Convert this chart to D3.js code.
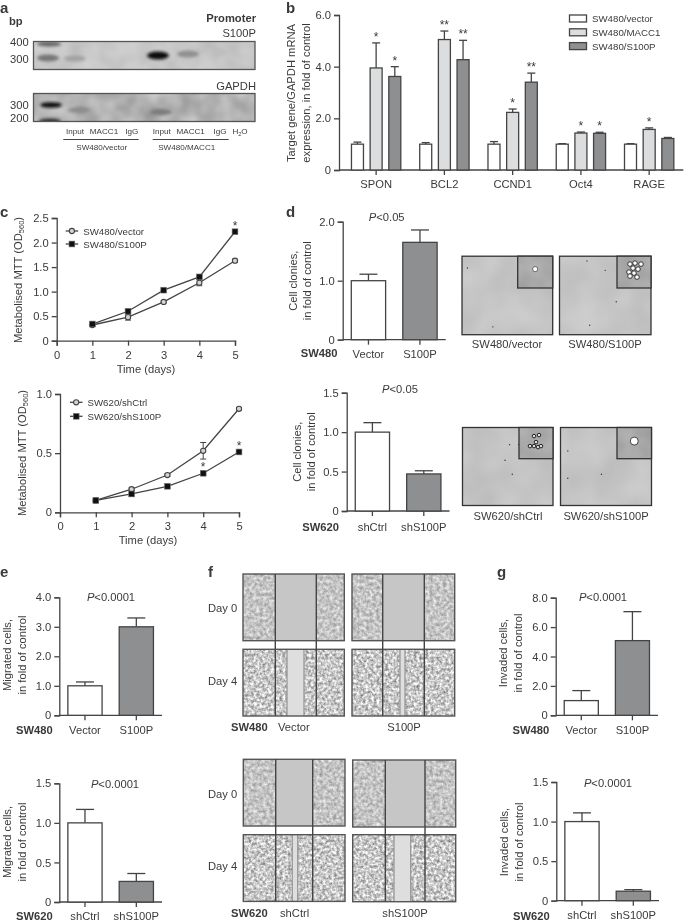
<!DOCTYPE html>
<html><head><meta charset="utf-8"><style>
html,body{margin:0;padding:0;background:#fff}
svg{display:block;filter:blur(0.35px)}
text{font-family:"Liberation Sans",Arial,sans-serif;fill:#3a3a3a}
</style><script src="https://cdn.jsdelivr.net/npm/d3@7"></script></head><body>
<svg id="c" width="685" height="921"></svg>
<script>
// ---------- DATA ----------
const genes = ["SPON","BCL2","CCND1","Oct4","RAGE"];
const groupsB = ["SW480/vector","SW480/MACC1","SW480/S100P"];
const vectorB = [1,1,1,1,1];
const vectorBErr = [1.08,1.06,1.10,1.02,1.02];
const macc1B = [3.95,5.05,2.23,1.43,1.57];
const macc1BErr = [4.92,5.38,2.36,1.47,1.63];
const s100pB = [3.62,4.27,3.40,1.42,1.22];
const s100pBErr = [4.00,5.02,3.75,1.46,1.26];
const starsMacc1B = ["*","**","*","*","*"];
const starsS100pB = ["*","**","**","*",""];
const bTicks = [0,2,4,6];

const days = [1,2,3,4,5];
const mttVector = [0.32,0.48,0.79,1.18,1.63];
const mttVectorErr = [0.02,0.06,0.02,0.06,0.03];
const mttS100P = [0.34,0.60,1.03,1.30,2.22];
const mttCtrl = [0.10,0.195,0.315,0.52,0.875];
const mttCtrlErr = [0.005,0.01,0.01,0.07,0.01];
const mttShS100P = [0.10,0.155,0.22,0.33,0.51];

const catSW480 = ["Vector","S100P"];
const catSW620 = ["shCtrl","shS100P"];
const clon480 = [1.0,1.65], clon480Err = [1.11,1.86];
const clon620 = [1.0,0.47], clon620Err = [1.12,0.51];
const migr480 = [1.0,3.0], migr480Err = [1.13,3.3];
const migr620 = [1.0,0.26], migr620Err = [1.17,0.36];
const inv480 = [1.0,5.08], inv480Err = [1.68,7.05];
const inv620 = [1.0,0.12], inv620Err = [1.11,0.14];
const ticks2 = [0,1,2], ticks15 = [0,0.5,1,1.5], ticks4 = [0,1,2,3,4], ticks8 = [0,2,4,6,8];

const lanes = ["Input","MACC1","IgG","Input","MACC1","IgG"];
// ---------- STYLE ----------
const INK="#444", GREY="#8e8f91", LIGHT="#dcddde", DARK="#222", FS=11.2;
const svg=d3.select("#c"), defs=svg.append("defs");
function txt(x,y,s,o={}){
  const t=svg.append("text").attr("x",x).attr("y",y).text(s)
    .attr("font-size",o.fs||FS).attr("text-anchor",o.a||"start");
  if(o.b)t.attr("font-weight","bold");
  if(o.rot)t.attr("transform",`rotate(-90 ${x} ${y})`);
  return t;
}
function letter(x,y,s){txt(x,y,s,{fs:15,b:1});}
function styleAxis(g){
  g.selectAll("path,line").attr("stroke",INK).attr("stroke-width",1.3);
  g.selectAll("text").attr("font-size",FS).attr("font-family",'"Liberation Sans",Arial,sans-serif').attr("fill","#3a3a3a");
}
function fmt(d){return d===0?"0":d3.format(".1f")(d);}
function rotTitle(x,y,lines){lines.forEach((l,i)=>txt(x[i]+4,y,l,{a:"middle",rot:1}));}
function pText(cx,y,s){
  const t=svg.append("text").attr("x",cx).attr("y",y).attr("text-anchor","middle").attr("font-size",FS);
  t.append("tspan").attr("font-style","italic").text("P");
  t.append("tspan").text(s);
}
// ---------- simple two-bar panels ----------
function barPanel(p){
  const y=d3.scaleLinear().domain([0,p.max]).range([p.y0,p.yTop]);
  const x=d3.scaleBand().domain(p.cats).range([p.x0,p.x1]).paddingInner(1/3).paddingOuter(1/6);
  const ga=svg.append("g").attr("transform",`translate(${p.x0},0)`)
    .call(d3.axisLeft(y).tickValues(p.ticks).tickFormat(fmt).tickSize(5).tickPadding(3));
  styleAxis(ga);
  const gb=svg.append("g").attr("transform",`translate(0,${p.y0})`)
    .call(d3.axisBottom(x).tickSize(5).tickPadding(p.pad));
  styleAxis(gb); gb.select("path").attr("d",`M${p.x0},0H${p.x1}`);
  p.cats.forEach((c,i)=>{
    const cx=x(c)+x.bandwidth()/2;
    svg.append("line").attr("x1",cx).attr("x2",cx).attr("y1",y(p.vals[i])).attr("y2",y(p.errs[i])).attr("stroke",INK).attr("stroke-width",1.3);
    svg.append("line").attr("x1",cx-9).attr("x2",cx+9).attr("y1",y(p.errs[i])).attr("y2",y(p.errs[i])).attr("stroke",INK).attr("stroke-width",1.3);
    svg.append("rect").attr("x",x(c)).attr("width",x.bandwidth()).attr("y",y(p.vals[i])).attr("height",p.y0-y(p.vals[i]))
      .attr("fill",i?GREY:"#fff").attr("stroke",INK).attr("stroke-width",1.3);
  });
  rotTitle(p.tx,p.ty,p.title);
  pText(p.px,p.py,p.p);
  txt(p.cx,p.cy,p.cell,{b:1});
}
// ---------- panel a: gel images ----------
defs.append("filter").attr("id","bandBlur").attr("x","-50%").attr("y","-100%").attr("width","200%").attr("height","300%")
  .append("feGaussianBlur").attr("stdDeviation",1.4);
function noise(id,freq,seed,k,c,oct=2){
  const f=defs.append("filter").attr("id",id).attr("x",0).attr("y",0).attr("width",1).attr("height",1).attr("color-interpolation-filters","sRGB");
  f.append("feTurbulence").attr("type","fractalNoise").attr("baseFrequency",freq).attr("numOctaves",oct).attr("seed",seed);
  f.append("feColorMatrix").attr("type","matrix").attr("values",`${k} 0 0 0 ${c} ${k} 0 0 0 ${c} ${k} 0 0 0 ${c} 0 0 0 0 1`);
  f.append("feGaussianBlur").attr("stdDeviation",0.5);
}
function gel(y,h,id,bands){
  defs.append("clipPath").attr("id",id+"c").append("rect").attr("x",33.5).attr("y",y).attr("width",221.5).attr("height",h);
  noise(id,0.05,id==="g1"?3:8,id==="g1"?0.12:0.3,id==="g1"?0.72:0.55);
  svg.append("rect").attr("x",33.5).attr("y",y).attr("width",221.5).attr("height",h).attr("filter",`url(#${id})`);
  const g=svg.append("g").attr("clip-path",`url(#${id}c)`);
  bands.forEach(b=>g.append("ellipse").attr("cx",b[0]).attr("cy",b[1]).attr("rx",b[2]).attr("ry",b[3]).attr("fill",b[4]).attr("filter","url(#bandBlur)"));
  svg.append("rect").attr("x",33.5).attr("y",y).attr("width",221.5).attr("height",h).attr("fill","none").attr("stroke","#555").attr("stroke-width",1.3);
}
letter(0,13,"a");
txt(9,25,"bp",{b:1,fs:11.2});
txt(256,22,"Promoter",{a:"end",b:1});
txt(256,37,"S100P",{a:"end"});
gel(41.5,28,"g1",[[49,44,12,2.4,"#666"],[48,58,11,3.5,"#777"],[75,58.5,11,3,"#a2a2a2"],[158,55.5,11,4,"#111"],[188,54,11,3.6,"#909090"],[220,52,8,2,"#bdbdbd"]]);
txt(256,90,"GAPDH",{a:"end"});
gel(93.5,28,"g2",[[51,105,11,2.8,"#111"],[50,121,11,2.5,"#333"],[79,110,11,3,"#8d8d8d"],[122,108,7,2,"#a2a2a2"],[161,112,11,3,"#7c7c7c"]]);
txt(10,45.5,"400");txt(10,63,"300");txt(10,109,"300");txt(10,122,"200");
const laneX=[75,104,131.7,161.7,190.7,220];
lanes.forEach((l,i)=>txt(laneX[i],134,l,{a:"middle",fs:8.1}));
const h2o=txt(240,134,"H",{a:"middle",fs:8.1});h2o.append("tspan").attr("font-size",5.5).attr("dy",1.5).text("2");h2o.append("tspan").attr("dy",-1.5).text("O");
[[63.3,138.7],[152.7,228.7]].forEach(r=>svg.append("line").attr("x1",r[0]).attr("x2",r[1]).attr("y1",139.5).attr("y2",139.5).attr("stroke",INK).attr("stroke-width",1));
txt(101.7,150,"SW480/vector",{a:"middle",fs:8.1});
txt(186.7,150,"SW480/MACC1",{a:"middle",fs:8.1});

// ---------- panel b ----------
letter(286,13,"b");
(function(){
  const y=d3.scaleLinear().domain([0,6]).range([170,15]);
  const x0=d3.scaleBand().domain(genes).range([342,683.3]);
  const x1=d3.scaleBand().domain(groupsB).range([0,56]);
  const series=[[vectorB,vectorBErr,"#fff"],[macc1B,macc1BErr,LIGHT],[s100pB,s100pBErr,GREY]];
  const ga=svg.append("g").attr("transform","translate(339,0)")
    .call(d3.axisLeft(y).tickValues(bTicks).tickFormat(d=>d?d.toFixed(1):"0").tickSize(5).tickPadding(3));styleAxis(ga);
  const gb=svg.append("g").attr("transform","translate(0,170)").call(d3.axisBottom(x0).tickSize(5).tickPadding(5.5));styleAxis(gb);
  gb.select("path").attr("d","M339,0H683.3");
  genes.forEach((g,i)=>{
    const gx=x0(g)+x0.bandwidth()/2-28;
    series.forEach((s,j)=>{
      const cx=gx+x1(groupsB[j])+x1.bandwidth()/2;
      svg.append("line").attr("x1",cx).attr("x2",cx).attr("y1",y(s[0][i])).attr("y2",y(s[1][i])).attr("stroke",INK).attr("stroke-width",1.3);
      svg.append("line").attr("x1",cx-4).attr("x2",cx+4).attr("y1",y(s[1][i])).attr("y2",y(s[1][i])).attr("stroke",INK).attr("stroke-width",1.3);
      svg.append("rect").attr("x",cx-6).attr("width",12).attr("y",y(s[0][i])).attr("height",170-y(s[0][i]))
        .attr("fill",s[2]).attr("stroke",INK).attr("stroke-width",1.3);
    });
    const mx=gx+x1(groupsB[1])+x1.bandwidth()/2, sx=gx+x1(groupsB[2])+x1.bandwidth()/2;
    if(starsMacc1B[i])txt(mx,y(macc1BErr[i])-2,starsMacc1B[i],{a:"middle",fs:12});
    if(starsS100pB[i])txt(sx,y(s100pBErr[i])-2,starsS100pB[i],{a:"middle",fs:12});
  });
  rotTitle([291,306],93,["Target gene/GAPDH mRNA","expression, in fold of control"]);
  groupsB.forEach((g,i)=>{
    svg.append("rect").attr("x",569.5).attr("y",15+i*13.8).attr("width",17).attr("height",7).attr("fill",series[i][2]).attr("stroke",INK).attr("stroke-width",1.3);
    txt(592,22+i*13.8,g,{fs:9.7});
  });
})();

// ---------- panel c ----------
letter(0,217,"c");
function linePanel(p){
  const x=d3.scaleLinear().domain([0,5]).range([p.x0,p.x1]);
  const y=d3.scaleLinear().domain([0,p.max]).range([p.y0,p.yTop]);
  const ga=svg.append("g").attr("transform",`translate(${p.x0},0)`).call(d3.axisLeft(y).tickValues(p.ticks).tickFormat(fmt).tickSize(5).tickPadding(3));styleAxis(ga);
  const gb=svg.append("g").attr("transform",`translate(0,${p.y0})`).call(d3.axisBottom(x).ticks(5).tickSize(5).tickPadding(5));styleAxis(gb);
  const line=d3.line().x((d,i)=>x(days[i])).y(d=>y(d));
  p.series.forEach((s,si)=>{
    svg.append("path").attr("d",line(s.v)).attr("fill","none").attr("stroke",INK).attr("stroke-width",1.3);
    s.v.forEach((v,i)=>{
      if(s.e){[[v-s.e[i],v+s.e[i]]].forEach(r=>{
        svg.append("line").attr("x1",x(days[i])).attr("x2",x(days[i])).attr("y1",y(r[0])).attr("y2",y(r[1])).attr("stroke",INK).attr("stroke-width",1);
        r.forEach(q=>svg.append("line").attr("x1",x(days[i])-3).attr("x2",x(days[i])+3).attr("y1",y(q)).attr("y2",y(q)).attr("stroke",INK).attr("stroke-width",1));
      });}
      mark(si,x(days[i]),y(v));
    });
  });
  p.legend.forEach((l,i)=>{
    const yy=p.ly+i*p.ldy;
    svg.append("line").attr("x1",p.lx).attr("x2",p.lx+12.5).attr("y1",yy).attr("y2",yy).attr("stroke",INK).attr("stroke-width",1.3);
    mark(i,p.lx+6.2,yy);
    txt(p.lx+17.5,yy+3.5,l,{fs:9.7});
  });
  p.stars.forEach(s=>txt(x(s[0]),y(s[1])-2,"*",{a:"middle",fs:12}));
  txt(p.tcx,p.y0+32,"Time (days)",{a:"middle"});
  const t=txt(p.ytx+4,p.yty,"Metabolised MTT (OD",{a:"middle",rot:1});
  t.append("tspan").attr("font-size",7.5).attr("dy",2).text("560");
  t.append("tspan").attr("dy",-2).text(")");
}
function mark(si,cx,cy){
  if(si===0)svg.append("circle").attr("cx",cx).attr("cy",cy).attr("r",2.6).attr("fill","#d4d4d4").attr("stroke",INK).attr("stroke-width",1.1);
  else svg.append("rect").attr("x",cx-2.9).attr("y",cy-2.9).attr("width",5.8).attr("height",5.8).attr("fill","#111").attr("stroke","#777").attr("stroke-width",.6);
}
linePanel({x0:56.7,x1:235,y0:340.7,yTop:218,max:2.5,ticks:[0,.5,1,1.5,2,2.5],
  series:[{v:mttVector,e:mttVectorErr},{v:mttS100P}],legend:["SW480/vector","SW480/S100P"],lx:65.7,ly:231,ldy:13,
  stars:[[5,mttS100P[4]]],tcx:146,ytx:18,yty:280});
linePanel({x0:60,x1:239,y0:512.3,yTop:394,max:1,ticks:[0,.5,1],
  series:[{v:mttCtrl,e:mttCtrlErr},{v:mttShS100P}],legend:["SW620/shCtrl","SW620/shS100P"],lx:70,ly:402.3,ldy:14,
  stars:[[4,mttShS100P[3]],[5,mttShS100P[4]]],tcx:148,ytx:21.7,yty:453});

// ---------- panel d ----------
letter(286,217,"d");
barPanel({cats:catSW480,vals:clon480,errs:clon480Err,max:2,ticks:ticks2,x0:342.7,x1:445.7,y0:339.7,yTop:221.7,pad:5,
  tx:[292.7,306.7],ty:280.7,title:["Cell clonies,","in fold of control"],px:386.7,py:221,p:"<0.05",cx:300.7,cy:357,cell:"SW480"});
barPanel({cats:catSW620,vals:clon620,errs:clon620Err,max:1.5,ticks:ticks15,x0:346.7,x1:449.5,y0:511,yTop:392.7,pad:7,
  tx:[296.7,310.7],ty:451.7,title:["Cell clonies,","in fold of control"],px:400,py:393,p:"<0.05",cx:302.3,cy:531,cell:"SW620"});
function micro(x,y,w,h,ix,iy,seed,dots,draw){
  const id="m"+seed;
  noise(id,0.03,seed,0.1,0.72);
  svg.append("rect").attr("x",x).attr("y",y).attr("width",w).attr("height",h).attr("filter",`url(#${id})`);
  dots.forEach(q=>blob(x+q[0]*w,y+q[1]*h,0.7,"#333"));
  svg.append("rect").attr("x",x).attr("y",y).attr("width",w).attr("height",h).attr("fill","none").attr("stroke","#333").attr("stroke-width",1.3);
  const iid=id+"i";noise(iid,0.05,seed+1,0.12,0.6);
  const iw=x+w-ix,ih=iy-y;
  svg.append("rect").attr("x",ix).attr("y",y).attr("width",iw).attr("height",ih).attr("filter",`url(#${iid})`);
  draw(ix+iw/2,y+ih/2);
  svg.append("rect").attr("x",ix).attr("y",y).attr("width",iw).attr("height",ih).attr("fill","none").attr("stroke","#333").attr("stroke-width",1.3);
}
function blob(cx,cy,r,f,s){svg.append("circle").attr("cx",cx).attr("cy",cy).attr("r",r).attr("fill",f).attr("stroke",s||"none").attr("stroke-width",1);}
micro(462,256.2,90.7,78.5,517.7,288,11,[[.06,.15],[.34,.9]],(a,b)=>{blob(a,b-3,2.6,"#fff","#666");});
micro(559.5,256.2,91.5,78.5,617,288,13,[[.3,.06],[.5,.18],[.62,.58],[.33,.88]],(a,b)=>{[[-4,-8],[1,-9],[-1,-4],[4,-3],[-5,0],[0,1],[-4,4],[3,5],[7,-8]].forEach(q=>blob(a+q[0],b+q[1],2.3,"#fff","#333"));});
micro(462.5,427.5,90.5,78,519,458.7,15,[[.47,.42],[.52,.22],[.55,.6],[.62,.22]],(a,b)=>{[[-2,-7],[3,-8],[-6,3],[-2,3],[2,4],[5,3],[0,-1]].forEach(q=>blob(a+q[0],b+q[1],1.8,"#ddd","#222"));});
micro(560.5,427.5,91,78,617,458.7,17,[[.08,.3],[.08,.65],[.45,.6]],(a,b)=>{blob(a,b-2,4,"#fff","#444");});
[["SW480/vector",507,348],["SW480/S100P",605,348],["SW620/shCtrl",508,520],["SW620/shS100P",606,520]].forEach(l=>txt(l[1],l[2],l[0],{a:"middle"}));

// ---------- panel e ----------
letter(0,577,"e");
barPanel({cats:catSW480,vals:migr480,errs:migr480Err,max:4,ticks:ticks4,x0:59.3,x1:162,y0:715.3,yTop:597.3,pad:6,
  tx:[7.3,22],ty:655,title:["Migrated cells,","in fold of control"],px:111,py:600.5,p:"<0.0001",cx:16,cy:734,cell:"SW480"});
barPanel({cats:catSW620,vals:migr620,errs:migr620Err,max:1.5,ticks:ticks15,x0:59.3,x1:162,y0:902,yTop:783.3,pad:5,
  tx:[7.3,22],ty:842,title:["Migrated cells,","in fold of control"],px:115,py:788,p:"<0.0001",cx:16,cy:920,cell:"SW620"});

// ---------- panel f ----------
letter(208,577,"f");
function scratch(x,y,w,h,a,b,seed,kind,lo,hi){
  const id="s"+seed;
  if(kind===0){noise(id,0.3,seed,0.5,0.52,3);}
  else{noise(id,0.35,seed,0.85,0.36,3);}
  svg.append("rect").attr("x",x).attr("y",y).attr("width",w).attr("height",h).attr("filter",`url(#${id})`);
  if(kind===0){svg.append("rect").attr("x",a).attr("y",y).attr("width",b-a).attr("height",h).attr("fill","#c6c6c6");}
  else{
    svg.append("rect").attr("x",lo).attr("y",y).attr("width",hi-lo).attr("height",h).attr("fill","#dedede");
    [lo,hi].forEach(v=>svg.append("line").attr("x1",v).attr("x2",v).attr("y1",y).attr("y2",y+h).attr("stroke","#999").attr("stroke-width",1.3));
  }
  svg.append("rect").attr("x",x).attr("y",y).attr("width",w).attr("height",h).attr("fill","none").attr("stroke","#555").attr("stroke-width",1.4);
}
scratch(243,574,101.3,66.7,275.3,316.3,21,0);
scratch(243,649.3,101.3,66.7,275.3,316.3,22,1,287,304);
scratch(352,574,102.7,66.7,382.7,424.3,23,0);
scratch(352,649.3,102.7,66.7,382.7,424.3,24,1,400,405);
scratch(243.3,759.3,101.7,66.7,275.7,312.7,25,0);
scratch(243.3,834.7,101.7,66.7,275.7,312.7,26,1,292.3,297.7);
scratch(352.7,760,103,67,385.3,425,27,0);
scratch(352.7,834.7,103,67,385.3,425,28,1,394,410.7);
[[275.3,574,716],[316.3,574,716],[382.7,574,716],[424.3,574,716],[275.7,759.3,901.3],[312.7,759.3,901.3],[385.3,760,901.3],[425,760,901.3]]
  .forEach(l=>svg.append("line").attr("x1",l[0]).attr("x2",l[0]).attr("y1",l[1]).attr("y2",l[2]).attr("stroke","#444").attr("stroke-width",1.4));
txt(208,612,"Day 0");txt(208,685,"Day 4");txt(208,798,"Day 0");txt(208,870,"Day 4");
txt(231,731,"SW480",{b:1});txt(278,731,"Vector");txt(404,731,"S100P",{a:"middle"});
txt(231,917,"SW620",{b:1});txt(280,917,"shCtrl");txt(405,917,"shS100P",{a:"middle"});

// ---------- panel g ----------
letter(497,577,"g");
barPanel({cats:catSW480,vals:inv480,errs:inv480Err,max:8,ticks:ticks8,x0:555.7,x1:658,y0:715.3,yTop:597.7,pad:6,
  tx:[503,518],ty:653,title:["Invaded cells,","in fold of control"],px:603,py:600.5,p:"<0.0001",cx:512.5,cy:734,cell:"SW480"});
barPanel({cats:catSW620,vals:inv620,errs:inv620Err,max:1.5,ticks:ticks15,x0:556.3,x1:659,y0:900.7,yTop:782,pad:5,
  tx:[504,519],ty:842,title:["Invaded cells,","in fold of control"],px:608,py:787,p:"<0.0001",cx:513,cy:920,cell:"SW620"});
</script></body></html>
